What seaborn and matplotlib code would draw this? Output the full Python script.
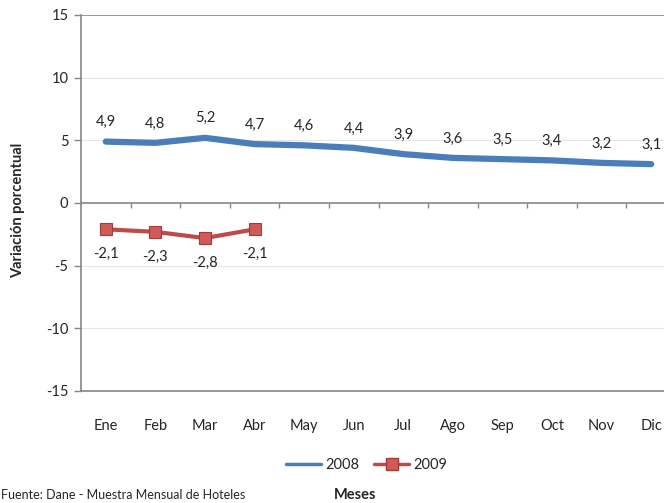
import numpy as np
import pandas as pd
import matplotlib
matplotlib.use("Agg")
import matplotlib.pyplot as plt
import seaborn as sns
from matplotlib.lines import Line2D

# ── data ──────────────────────────────────────────────────────────────────────
MESES = ["Ene", "Feb", "Mar", "Abr", "May", "Jun",
         "Jul", "Ago", "Sep", "Oct", "Nov", "Dic"]
V2008 = [4.9, 4.8, 5.2, 4.7, 4.6, 4.4, 3.9, 3.6, 3.5, 3.4, 3.2, 3.1]
V2009 = [-2.1, -2.3, -2.8, -2.1]
Y_TICKS = [-15, -10, -5, 0, 5, 10, 15]

# ── style ─────────────────────────────────────────────────────────────────────
BLUE = "#4A7EBB"
RED = "#BE4B48"
SPINE = "#868686"
GRID = "#E6E6E6"

sns.set_style("white")
plt.rcParams["font.family"] = ["Lato", "DejaVu Sans"]
plt.rcParams["font.size"] = 10.5

df08 = pd.DataFrame({"mes": MESES, "valor": V2008})
df09 = pd.DataFrame({"mes": MESES[:len(V2009)], "valor": V2009})

fig = plt.figure(figsize=(6.64, 5.03), dpi=100)
ax = fig.add_axes([81 / 664, 112 / 503, 595 / 664, 376 / 503])

sns.lineplot(data=df08, x="mes", y="valor", ax=ax, color=BLUE, lw=4.5,
             solid_capstyle="round", sort=False)
sns.lineplot(data=df09, x="mes", y="valor", ax=ax, color=RED, lw=3,
             marker="s", markersize=8, markerfacecolor="#D05A57",
             markeredgecolor="#A33A37", markeredgewidth=0.8, sort=False)

# data labels
for i, v in enumerate(V2008):
    ax.annotate(f"{v:.1f}".replace(".", ","), (i, v), xytext=(0, 14),
                textcoords="offset points", ha="center", va="center",
                fontsize=10.5)
for i, v in enumerate(V2009):
    ax.annotate(f"{v:.1f}".replace(".", ","), (i, v), xytext=(0, -18),
                textcoords="offset points", ha="center", va="center",
                fontsize=10.5)

# axes
ax.set_xlim(-0.5, len(MESES) - 0.5)
ax.set_ylim(-15, 15)
ax.set_yticks(Y_TICKS)
ax.set_yticklabels([str(t) for t in Y_TICKS])
ax.set_xticks(range(len(MESES)))
ax.set_xticklabels(MESES)
ax.tick_params(axis="x", length=0, pad=20)
ax.tick_params(axis="y", length=5, width=1, color=SPINE, direction="out", pad=4)
ax.yaxis.set_ticks_position("left")
for t in [-10, -5, 5, 10]:
    ax.axhline(t, color=GRID, lw=0.8, zorder=0)
ax.axhline(15, color=SPINE, lw=1.2, zorder=0)
ax.axhline(0, color=SPINE, lw=1.2, zorder=1)
ax.vlines(np.arange(0.5, len(MESES) - 0.5), -0.4, 0, color=SPINE, lw=1)
for s in ["top", "right"]:
    ax.spines[s].set_visible(False)
for s in ["left", "bottom"]:
    ax.spines[s].set_color(SPINE)
    ax.spines[s].set_linewidth(1.2)

ax.set_xlabel("")
ax.set_ylabel("")
fig.text(18 / 664, 1 - 210 / 503, "Variación porcentual", rotation=90,
         ha="center", va="center", fontweight="bold", fontsize=10.5)

handles = [
    Line2D([], [], color=BLUE, lw=2.5),
    Line2D([], [], color=RED, lw=2.5, marker="s", markersize=8,
           markerfacecolor="#D05A57", markeredgecolor="#A33A37"),
]
fig.legend(handles, ["2008", "2009"], loc="center",
           bbox_to_anchor=(367 / 664, 1 - 465 / 503), ncol=2, frameon=False,
           fontsize=10.5, handlelength=2.4, columnspacing=1.0,
           handletextpad=0.3)

fig.text(355 / 664, 1 - 495 / 503, "Meses", ha="center", va="center",
         fontweight="bold", fontsize=10.5)
fig.text(1 / 664, 1 - 495 / 503, "Fuente: Dane - Muestra Mensual de Hoteles",
         ha="left", va="center", fontsize=9)

fig.savefig("out.png", dpi=100)
